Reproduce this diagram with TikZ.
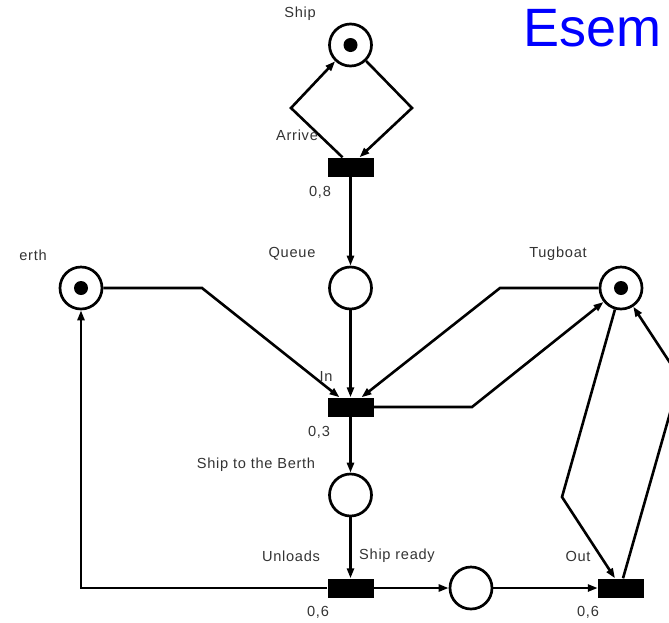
\documentclass[tikz,border=0pt]{standalone}
\usepackage{fontspec}
\setmainfont{Liberation Sans}
\newfontfamily\lblfont[LetterSpace=5]{Liberation Sans}
\usetikzlibrary{arrows.meta}
\definecolor{eblue}{RGB}{0,0,255}
\begin{document}
\begin{tikzpicture}[x=1pt,y=-1pt,
 place/.style={circle,draw,line width=2.7pt,minimum size=42pt,inner sep=0pt},
 trans/.style={rectangle,fill=black,minimum width=46pt,minimum height=19pt,inner sep=0pt},
 lbl/.style={font=\lblfont\fontsize{14.6}{16}\selectfont,text=black!80,inner sep=0pt},
 arc/.style={line width=2.6pt,-{Triangle[length=10pt,width=7pt]}},
 tok/.style={circle,fill=black,minimum size=14pt,inner sep=0pt}]
\useasboundingbox (0,0) rectangle (669,622);
\clip (0,0) rectangle (669,622);
% places and transitions
\node[place] (ship) at (350.5,45) {};
\node[tok] (shipT) at (ship) {};
\node[trans] (arrive) at (350.5,167) {};
\node[place] (queue) at (350.5,288) {};
\node[place] (berth) at (81,288) {};
\node[tok] (berthT) at (berth) {};
\node[place] (tug) at (621,288) {};
\node[tok] (tugT) at (tug) {};
\node[trans] (in) at (350.5,407) {};
\node[place] (stb) at (350.5,495) {};
\node[trans] (unl) at (350.5,588) {};
\node[place] (ready) at (471,588) {};
\node[trans] (out) at (621,588) {};
% bend points
\coordinate (b1) at (291,108);
\coordinate (b2) at (412,108);
\coordinate (b3) at (202,288);
\coordinate (b4) at (500,288);
\coordinate (b5) at (472,407);
\coordinate (b6) at (562,497);
\coordinate (b7) at (680,378);
% arcs
\draw[arc] ([xshift=-8pt]arrive.north) -- (b1) -- (ship);
\draw[arc] (ship) -- (b2) -- ([xshift=9pt]arrive.north);
\draw[arc] (arrive) -- (queue);
\draw[arc] (queue) -- (in);
\draw[arc] (berth) -- (b3) -- ([xshift=-11pt]in.north);
\draw[arc] (tug) -- (b4) -- ([xshift=11pt]in.north);
\draw[arc] (in.east) -- (b5) -- (tug);
\draw[arc] (in) -- (stb);
\draw[arc] (stb) -- (unl);
\draw[arc] (unl) -- (ready);
\draw[arc] (ready) -- (out);
\draw[arc] (unl.west) -| (berth);
\draw[arc] (tug) -- (b6) -- ([xshift=-6pt]out.north);
\draw[arc] ([xshift=2pt]out.north) -- (b7) -- (tug);
% labels
\node[lbl] (lShip) at (300,14) {Ship};
\node[lbl] (lArr) at (297,135) {Arrive};
\node[lbl] (l08) at (320,192) {0,8};
\node[lbl] (lQ) at (292,254) {Queue};
\node[lbl] (lB) at (33,255) {erth};
\node[lbl] (lT) at (558,254) {Tugboat};
\node[lbl] (lIn) at (326,376) {In};
\node[lbl] (l03) at (319,432) {0,3};
\node[lbl] (lstb) at (256,465) {Ship to the Berth};
\node[lbl] (lU) at (291,556) {Unloads};
\node[lbl] (lR) at (397,556) {Ship ready};
\node[lbl] (lO) at (578,556) {Out};
\node[lbl] (l06a) at (318,612) {0,6};
\node[lbl] (l06b) at (588,612) {0,6};
\node[font=\fontsize{54}{60}\selectfont,text=eblue,anchor=base west,inner sep=0pt] (esem) at (523,46) {Esem};
\end{tikzpicture}
\end{document}
